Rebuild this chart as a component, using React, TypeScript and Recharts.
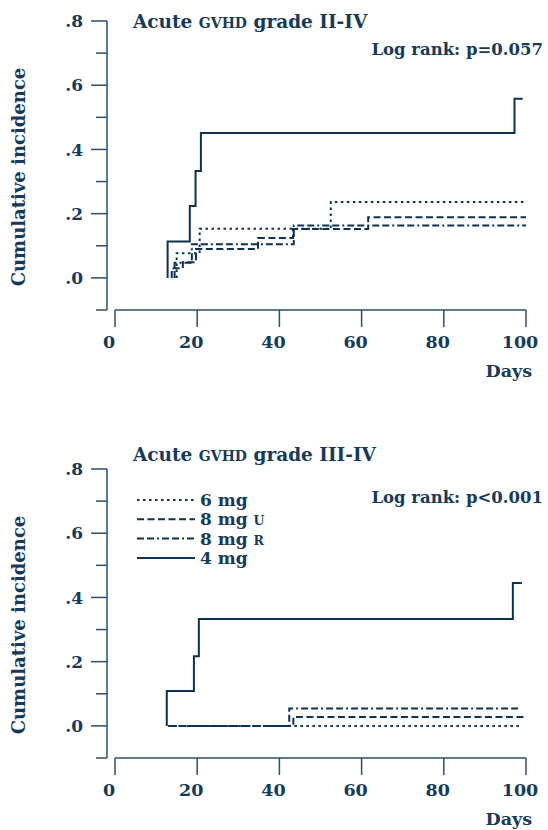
import { LineChart, Line, XAxis, YAxis, ReferenceLine, Legend } from 'recharts';

// series names (legend order)
const seriesNames = ['6 mg', '8 mg U', '8 mg R', '4 mg'];

// grade II-IV, days / cumulative incidence for each group
const topDays6 = [15, 15, 20.6, 52.5, 100];
const topInc6 = [0, 0.077, 0.153, 0.236, 0.236];
const topDays8u = [13.8, 13.8, 16.5, 19.7, 34.8, 43.3, 61.6, 100];
const topInc8u = [0, 0.03, 0.049, 0.09, 0.124, 0.152, 0.189, 0.189];
const topDays8r = [14.5, 14.5, 18.7, 43.5, 100];
const topInc8r = [0, 0.047, 0.105, 0.163, 0.163];
const topDays4 = [12.8, 12.8, 18.2, 19.6, 20.9, 97.2, 99.2];
const topInc4 = [0, 0.113, 0.224, 0.333, 0.451, 0.558, 0.558];

// grade III-IV
const botDays6 = [13, 98.5];
const botInc6 = [0, 0];
const botDays8u = [13, 43.4, 99.8];
const botInc8u = [0, 0.028, 0.028];
const botDays8r = [13, 42.4, 98.5];
const botInc8r = [0, 0.054, 0.054];
const botDays4 = [12.6, 12.6, 19.2, 20.4, 96.8, 99];
const botInc4 = [0, 0.109, 0.217, 0.333, 0.445, 0.445];

const xTicks = [0, 20, 40, 60, 80, 100];
const yMajor = [0, 0.2, 0.4, 0.6, 0.8];
const yMajorLabels = ['.0', '.2', '.4', '.6', '.8'];
const yMinor = [-0.1, 0.1, 0.3, 0.5, 0.7];
const yTicks = [...yMajor, ...yMinor].sort((a, b) => a - b);

const FONT = '"DejaVu Serif", serif';
const TEXT = '#163a5c';
const LINE = '#0c3253';
const AXIS = '#2d4e6d';

const dashes: Record<string, string | undefined> = {
  '6 mg': '2.5 3.5',
  '8 mg U': '7 3.5',
  '8 mg R': '7 3 7 3 2 3',
  '4 mg': undefined,
};

const zip = (d: number[], v: number[]) => d.map((day, i) => ({ day, v: v[i] }));

const topSeries = [zip(topDays6, topInc6), zip(topDays8u, topInc8u), zip(topDays8r, topInc8r), zip(topDays4, topInc4)];
const botSeries = [zip(botDays6, botInc6), zip(botDays8u, botInc8u), zip(botDays8r, botInc8r), zip(botDays4, botInc4)];

const YTick = (props: any) => {
  const { x, y, payload } = props;
  const idx = yMajor.findIndex((m) => Math.abs(m - payload.value) < 1e-6);
  const major = idx >= 0;
  return (
    <g>
      <line x1={x - (major ? 16 : 11)} x2={x} y1={y} y2={y} stroke={AXIS} strokeWidth={1.5} />
      {major && (
        <text x={x - 24} y={y} dy="0.36em" textAnchor="end" fontFamily={FONT} fontWeight="bold" fontSize={17} fill={TEXT}>
          {yMajorLabels[idx]}
        </text>
      )}
    </g>
  );
};

const XTick = (props: any) => {
  const { x, y, payload } = props;
  return (
    <g>
      <line x1={x} x2={x} y1={y} y2={y + 17} stroke={AXIS} strokeWidth={1.5} />
      <text x={x - 6} y={y + 38} textAnchor="middle" fontFamily={FONT} fontWeight="bold" fontSize={17.5} fill={TEXT}>
        {payload.value}
      </text>
    </g>
  );
};

const LegendBox = (props: any) => {
  const items = [...(props.payload || [])].sort(
    (a: any, b: any) => seriesNames.indexOf(a.value) - seriesNames.indexOf(b.value)
  );
  return (
    <svg width={160} height={80} style={{ display: 'block' }}>
      {items.map((entry: any, i: number) => {
        const name: string = entry.value;
        const m = name.match(/^(.*) ([UR])$/);
        const y = 10 + i * 19.3;
        return (
          <g key={name}>
            <line x1={0} x2={58} y1={y} y2={y} stroke={LINE} strokeWidth={2} strokeDasharray={dashes[name]} />
            <text x={63} y={y + 6} fontFamily={FONT} fontWeight="bold" fontSize={17} fill={TEXT}>
              {m ? m[1] + ' ' : name}
              {m && <tspan fontSize={12.5}>{m[2]}</tspan>}
            </text>
          </g>
        );
      })}
    </svg>
  );
};

function Panel({ height, off, titleY, titleGrade, pText, series, legend }: any) {
  const plotTop = 21 + off;
  const plotBottom = 310 + off;
  return (
    <LineChart
      width={548}
      height={height}
      margin={{ top: plotTop, right: 22, left: 0, bottom: height - plotBottom - 60 }}
    >
      <XAxis
        type="number"
        dataKey="day"
        domain={[0, 100]}
        ticks={xTicks}
        interval={0}
        padding={{ left: 8, right: 0 }}
        axisLine={false}
        tickLine={false}
        tickSize={0}
        tickMargin={0}
        height={60}
        tick={<XTick />}
      />
      <YAxis
        type="number"
        domain={[-0.1, 0.8]}
        allowDataOverflow
        ticks={yTicks}
        interval={0}
        width={107}
        axisLine={{ stroke: AXIS, strokeWidth: 1.5 }}
        tickLine={false}
        tickSize={0}
        tickMargin={0}
        tick={<YTick />}
      />
      <ReferenceLine
        segment={[{ x: 0, y: -0.1 }, { x: 100, y: -0.1 }]}
        stroke={AXIS}
        strokeWidth={1.5}
      />
      {seriesNames.map((name, i) => (
        <Line
          key={name}
          name={name}
          data={series[i]}
          dataKey="v"
          type="stepAfter"
          stroke={LINE}
          strokeWidth={2}
          strokeDasharray={dashes[name]}
          dot={false}
          activeDot={false}
          isAnimationActive={false}
        />
      ))}
      {legend && (
        <Legend
          layout="vertical"
          align="center"
          verticalAlign="middle"
          content={<LegendBox />}
          wrapperStyle={{ left: 137, top: 42 + off, width: 160, height: 80 }}
        />
      )}
      <text x={133} y={titleY} fontFamily={FONT} fontWeight="bold" fontSize={18.5} fill={TEXT}>
        Acute <tspan fontSize={14}>GVHD</tspan> grade {titleGrade}
      </text>
      <text x={543} y={55 + off} textAnchor="end" fontFamily={FONT} fontWeight="bold" fontSize={16.5} fill={TEXT}>
        {pText}
      </text>
      <text
        x={19}
        y={177 + off}
        transform={`rotate(-90 19 ${177 + off})`}
        textAnchor="middle"
        dy="0.36em"
        fontFamily={FONT}
        fontWeight="bold"
        fontSize={18}
        fill={TEXT}
      >
        Cumulative incidence
      </text>
      <text x={532} y={plotBottom + 67} textAnchor="end" fontFamily={FONT} fontWeight="bold" fontSize={17.5} fill={TEXT}>
        Days
      </text>
    </LineChart>
  );
}

export default function App() {
  return (
    <div style={{ position: 'absolute', left: 0, top: 0, width: 548, height: 830, overflow: 'hidden', background: '#fff' }}>
      <Panel height={430} off={0} titleY={28} titleGrade="II-IV" pText="Log rank: p=0.057" series={topSeries} legend={false} />
      <Panel height={400} off={18} titleY={31} titleGrade="III-IV" pText="Log rank: p<0.001" series={botSeries} legend />
    </div>
  );
}
